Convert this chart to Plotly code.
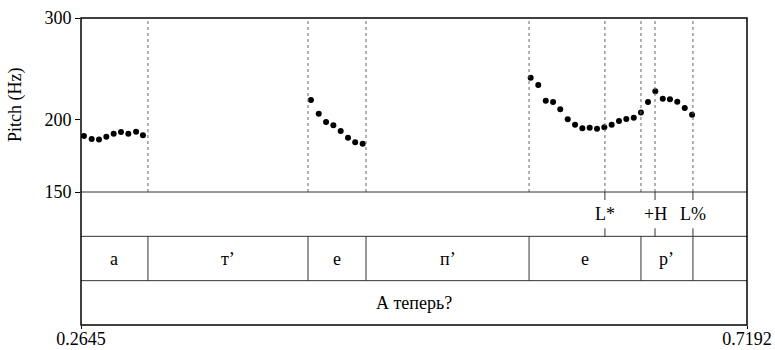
import numpy as np
import plotly.graph_objects as go

# pitch track (s, Hz)
times = [0.2665, 0.2718, 0.2768, 0.2818, 0.2868, 0.2918, 0.2968, 0.3021, 0.3068,
         0.4215, 0.4268, 0.4318, 0.4368, 0.4418, 0.4468, 0.4517, 0.4568,
         0.5715, 0.5767, 0.5818, 0.5868, 0.5917, 0.5968, 0.6018, 0.6068, 0.6118,
         0.6168, 0.6218, 0.6268, 0.6318, 0.6368, 0.6419, 0.6468, 0.6516, 0.6566,
         0.6617, 0.6666, 0.6716, 0.6767, 0.6817]
pitch = [187.5, 185.2, 184.9, 187.0, 189.1, 190.5, 189.1, 190.7, 188.0,
         216.3, 204.8, 198.2, 195.6, 191.2, 186.2, 182.8, 181.8,
         236.5, 229.7, 215.8, 214.7, 208.5, 200.4, 196.1, 193.3, 193.8,
         193.0, 194.1, 196.1, 199.0, 200.6, 201.7, 205.8, 214.7, 224.0,
         217.5, 217.0, 214.9, 209.6, 204.1]

# phone tier
phone_bounds = [0.2645, 0.3102, 0.4195, 0.4591, 0.5704, 0.6468, 0.6823, 0.7192]
phone_labels = ["а", "т’", "е", "п’", "е", "р’", ""]

# tone tier
tone_times = [0.6222, 0.6564, 0.6823]
tone_labels = ["L*", "+H", "L%"]

# word tier
word_label = "А теперь?"

t_min, t_max = 0.2645, 0.7192
f_min, f_max = 150, 300

FONT = "Liberation Serif"
split = 0.4332  # bottom of pitch area in paper coords

fig = go.Figure()
fig.add_trace(go.Scatter(x=times, y=pitch, mode="markers",
                         marker=dict(color="black", size=6), xaxis="x", yaxis="y",
                         showlegend=False))

shapes = []
# dotted boundaries in the pitch area
for t in phone_bounds[1:-1] + tone_times[:2]:
    shapes.append(dict(type="line", xref="x", yref="paper", x0=t, x1=t, y0=split, y1=1,
                       line=dict(color="#666", width=1, dash="dot")))
# tier separators
shapes.append(dict(type="line", xref="paper", yref="paper", x0=0, x1=1, y0=split, y1=split,
                   line=dict(color="#333", width=1)))
for yv in [1, 2]:
    shapes.append(dict(type="line", xref="paper", yref="y2", x0=0, x1=1, y0=yv, y1=yv,
                       line=dict(color="#333", width=1)))
# phone boundaries
for t in phone_bounds[1:-1]:
    shapes.append(dict(type="line", xref="x", yref="y2", x0=t, x1=t, y0=1, y1=2,
                       line=dict(color="#333", width=1)))
# tone ticks
for t in tone_times:
    shapes.append(dict(type="line", xref="x", yref="y2", x0=t, x1=t, y0=2.82, y1=3,
                       line=dict(color="#333", width=1)))
    shapes.append(dict(type="line", xref="x", yref="y2", x0=t, x1=t, y0=2, y1=2.18,
                       line=dict(color="#333", width=1)))
# outer frame
shapes.append(dict(type="rect", xref="paper", yref="paper", x0=0, x1=1, y0=0, y1=1,
                   line=dict(color="black", width=1.5)))

annotations = []
for i, lab in enumerate(phone_labels):
    if lab:
        annotations.append(dict(x=(phone_bounds[i] + phone_bounds[i + 1]) / 2, y=1.5,
                                xref="x", yref="y2", text=lab, showarrow=False))
for t, lab in zip(tone_times, tone_labels):
    annotations.append(dict(x=t, y=2.5, xref="x", yref="y2", text=lab, showarrow=False))
annotations.append(dict(x=(t_min + t_max) / 2, y=0.5, xref="x", yref="y2",
                        text=word_label, showarrow=False))
annotations.append(dict(x=0, y=(1 + split) / 2, xref="paper", yref="paper", xshift=-66,
                        xanchor="center", yanchor="middle",
                        text="Pitch (Hz)", textangle=-90, showarrow=False))

fig.update_layout(
    template="none",
    width=775, height=350,
    margin=dict(l=81, r=28, t=18, b=25),
    paper_bgcolor="white", plot_bgcolor="white",
    font=dict(family=FONT, size=18, color="black"),
    xaxis=dict(range=[t_min, t_max], anchor="y2", tickvals=[t_min, t_max],
               ticktext=["0.2645", "0.7192"], ticks="outside", ticklen=3,
               ticklabelstandoff=-6,
               tickcolor="black", showgrid=False, zeroline=False, showline=False,
               automargin=False),
    yaxis=dict(type="log", range=[np.log10(f_min), np.log10(f_max)], domain=[split, 1],
               tickvals=[150, 200, 300], ticktext=["150", "200", "300"],
               ticks="outside", ticklen=5, tickcolor="black", showgrid=False,
               zeroline=False, showline=False, automargin=False),
    yaxis2=dict(range=[0, 3], domain=[0, split], showticklabels=False, showgrid=False,
                zeroline=False, showline=False, ticks="", automargin=False),
    shapes=shapes,
    annotations=annotations,
)

# drop the default page margin so the figure sits at the window corner
fig.write_html("out.html", config={"displayModeBar": False},
               post_script="document.body.style.margin = '0';")
